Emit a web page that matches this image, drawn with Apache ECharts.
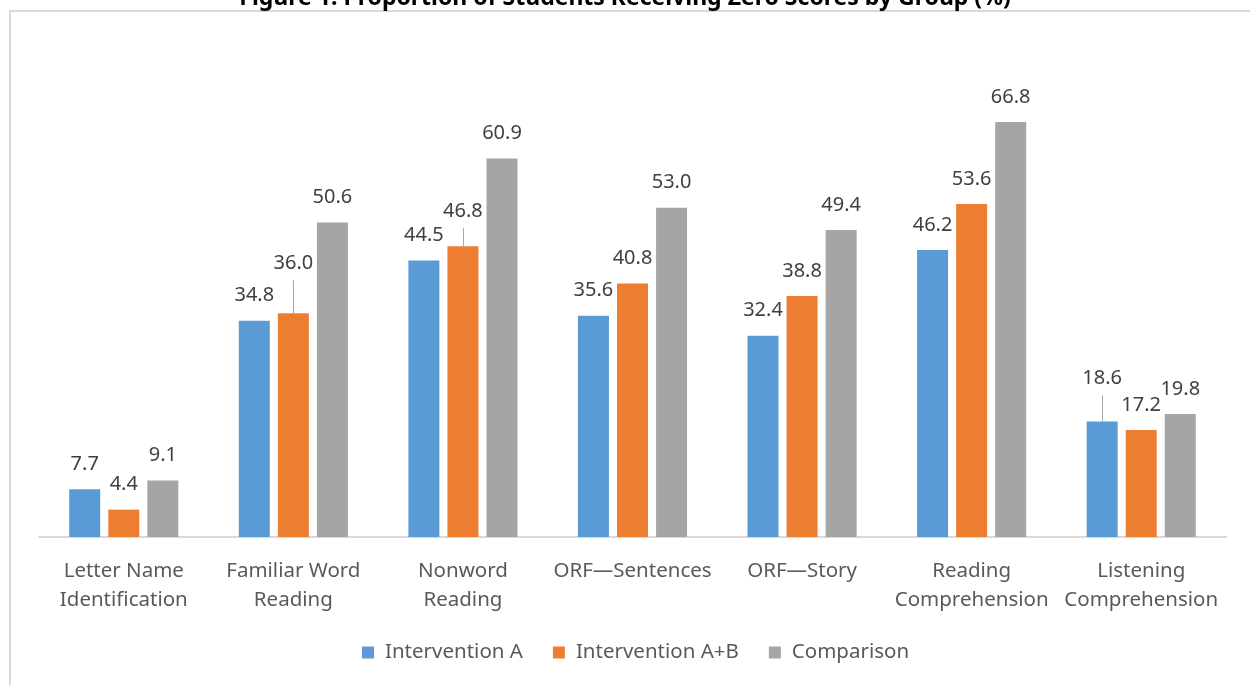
<!DOCTYPE html>
<html>
<head>
<meta charset="utf-8">
<script src="https://cdn.jsdelivr.net/npm/echarts@6/dist/echarts.min.js"></script>
<style>
  html, body { margin: 0; padding: 0; background: #fff; }
  #chart { width: 1250px; height: 685px; }
</style>
</head>
<body>
<div id="chart"></div>
<script>
const categories = [
  'Letter Name\nIdentification',
  'Familiar Word\nReading',
  'Nonword\nReading',
  'ORF\u2014Sentences',
  'ORF\u2014Story',
  'Reading\nComprehension',
  'Listening\nComprehension'
]
const seriesNames = ['Intervention A', 'Intervention A+B', 'Comparison']
const interventionA = [7.7, 34.8, 44.5, 35.6, 32.4, 46.2, 18.6]
const interventionAB = [4.4, 36.0, 46.8, 40.8, 38.8, 53.6, 17.2]
const comparison = [9.1, 50.6, 60.9, 53.0, 49.4, 66.8, 19.8]

const colors = ['#5B9BD5', '#ED7D31', '#A5A5A5']
const font = '"Noto Sans", "Open Sans", sans-serif'

const BAR_W = 31
const BAR_STEP = 39 // bar width + gap between bars in a group

// labels Excel pushed up with a leader line: "series-index" -> extra lift in px
const lifted = { '0-6': 18, '1-1': 25, '1-2': 10 }

const allValues = [interventionA, interventionAB, comparison]

const makeData = (values, s) =>
  values.map((v, i) => {
    const lift = lifted[s + '-' + i]
    if (!lift) return v
    return { value: v, label: { distance: 15 + lift } }
  })

// leader lines for the lifted labels
const leaderData = Object.keys(lifted).map(k => {
  const [s, i] = k.split('-').map(Number)
  return [i, allValues[s][i], s]
})

const chart = echarts.init(document.getElementById('chart'))

const option = {
  animation: false,
  textStyle: { fontFamily: font },
  title: {
    text: 'Figure 1: Proportion of Students Receiving Zero Scores by Group (%)',
    left: 'center',
    top: -18,
    textStyle: { fontSize: 23, fontWeight: 'bold', color: '#000', fontFamily: font }
  },
  graphic: [
    {
      type: 'rect',
      shape: { x: 10, y: 11, width: 1300, height: 700 },
      style: { fill: 'none', stroke: '#D9D9D9', lineWidth: 2 },
      silent: true
    }
  ],
  legend: {
    data: seriesNames,
    bottom: 17,
    left: 357,
    icon: 'rect',
    itemWidth: 12,
    itemHeight: 12,
    itemGap: 30,
    textStyle: { fontSize: 20.5, color: '#595959', fontFamily: font, padding: [0, 0, 0, 6] }
  },
  grid: {
    left: 39,
    right: 24,
    top: 102,
    bottom: 148
  },
  xAxis: {
    type: 'category',
    data: categories,
    axisLine: { lineStyle: { color: '#D9D9D9', width: 2 } },
    axisTick: { show: false },
    axisLabel: {
      fontSize: 20.5,
      lineHeight: 29,
      color: '#595959',
      margin: 20,
      interval: 0,
      fontFamily: font
    }
  },
  yAxis: {
    type: 'value',
    min: 0,
    max: 70,
    show: false,
    splitLine: { show: false }
  },
  series: seriesNames.map((name, s) => ({
    name,
    type: 'bar',
    barWidth: BAR_W,
    barGap: '26%',
    itemStyle: { color: colors[s] },
    label: {
      show: true,
      position: 'top',
      distance: 15,
      fontSize: 20,
      color: '#404040',
      fontFamily: font,
      formatter: p => Number(p.value).toFixed(1)
    },
    data: makeData(allValues[s], s)
  })).concat([
    {
      type: 'custom',
      silent: true,
      z: 5,
      renderItem: (params, api) => {
        const s = api.value(2)
        const i = api.value(0)
        const top = api.coord([i, api.value(1)])
        const x = Math.round(top[0] + (s - 1) * BAR_STEP) + 0.5
        const lift = lifted[s + '-' + i]
        return {
          type: 'line',
          shape: { x1: x, y1: top[1], x2: x, y2: top[1] - lift - 8 },
          style: { stroke: '#A6A6A6', lineWidth: 1 }
        }
      },
      data: leaderData
    }
  ])
}

chart.setOption(option)
</script>
</body>
</html>
